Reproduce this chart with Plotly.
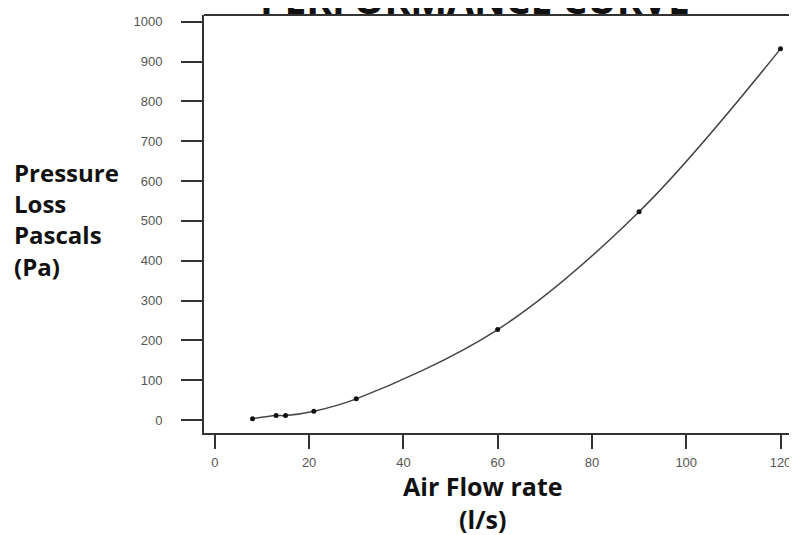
import plotly.graph_objects as go

# Data
flow = [8, 13, 15, 21, 30, 60, 90, 120]          # Air flow rate (l/s)
pressure = [3, 11, 11, 22, 53, 227, 523, 932]     # Pressure loss (Pa)

x_ticks = [0, 20, 40, 60, 80, 100, 120]
y_ticks = [0, 100, 200, 300, 400, 500, 600, 700, 800, 900, 1000]

fig = go.Figure()
fig.add_trace(go.Scatter(
    x=flow, y=pressure, mode="lines+markers",
    line=dict(color="#444444", width=1.5, shape="spline", smoothing=1.0),
    marker=dict(color="#111111", size=5),
    showlegend=False, hoverinfo="x+y",
))

axis_line = "#333333"
tick_font = dict(family="Liberation Sans, Arial, sans-serif", size=13, color="#555555")

L, T, B, R = 196, 7, 110, 8
PW, PH = 797 - L - R, 535 - T - B

fig.update_layout(
    width=797, height=535,
    margin=dict(l=L, r=R, t=T, b=B),
    paper_bgcolor="white", plot_bgcolor="white",
    xaxis=dict(
        range=[-2.3, 123.5], tickvals=x_ticks, ticks="outside", ticklen=14,
        tickwidth=1.5, tickcolor=axis_line, showline=True, linecolor=axis_line,
        linewidth=2, showgrid=False, zeroline=False, tickfont=tick_font,
        ticklabelstandoff=2,
    ),
    yaxis=dict(
        range=[-32.7, 1017], tickvals=y_ticks, ticks="outside", ticklen=21,
        tickwidth=1.5, tickcolor=axis_line, showline=True, linecolor=axis_line,
        linewidth=2, showgrid=False, zeroline=False, tickfont=tick_font,
        ticklabelstandoff=16,
    ),
    shapes=[dict(type="line", xref="paper", yref="paper", x0=0, x1=1, y0=1, y1=1,
                 line=dict(color=axis_line, width=2))],
    annotations=[
        dict(text="<b>PERFORMANCE CURVE</b>", xref="paper", yref="paper",
             x=(467 - L) / PW, y=1, xanchor="center", yanchor="bottom", yshift=-12,
             showarrow=False, font=dict(family="Open Sans", size=39, color="#111111")),
        dict(text="<b>Pressure<br>Loss<br>Pascals<br>(Pa)</b>", xref="paper", yref="paper",
             x=(4 - L) / PW, y=(535 - B - 211) / PH, xanchor="left", yanchor="middle",
             align="left", showarrow=False,
             font=dict(family="Open Sans", size=24, color="#111111")),
        dict(text="<b>Air Flow rate<br>(l/s)</b>", xref="paper", yref="paper",
             x=(475 - L) / PW, y=0, xanchor="center", yanchor="top", yshift=-34,
             align="center", showarrow=False,
             font=dict(family="Open Sans", size=25, color="#111111")),
    ],
)

fig.write_html("out.html")
